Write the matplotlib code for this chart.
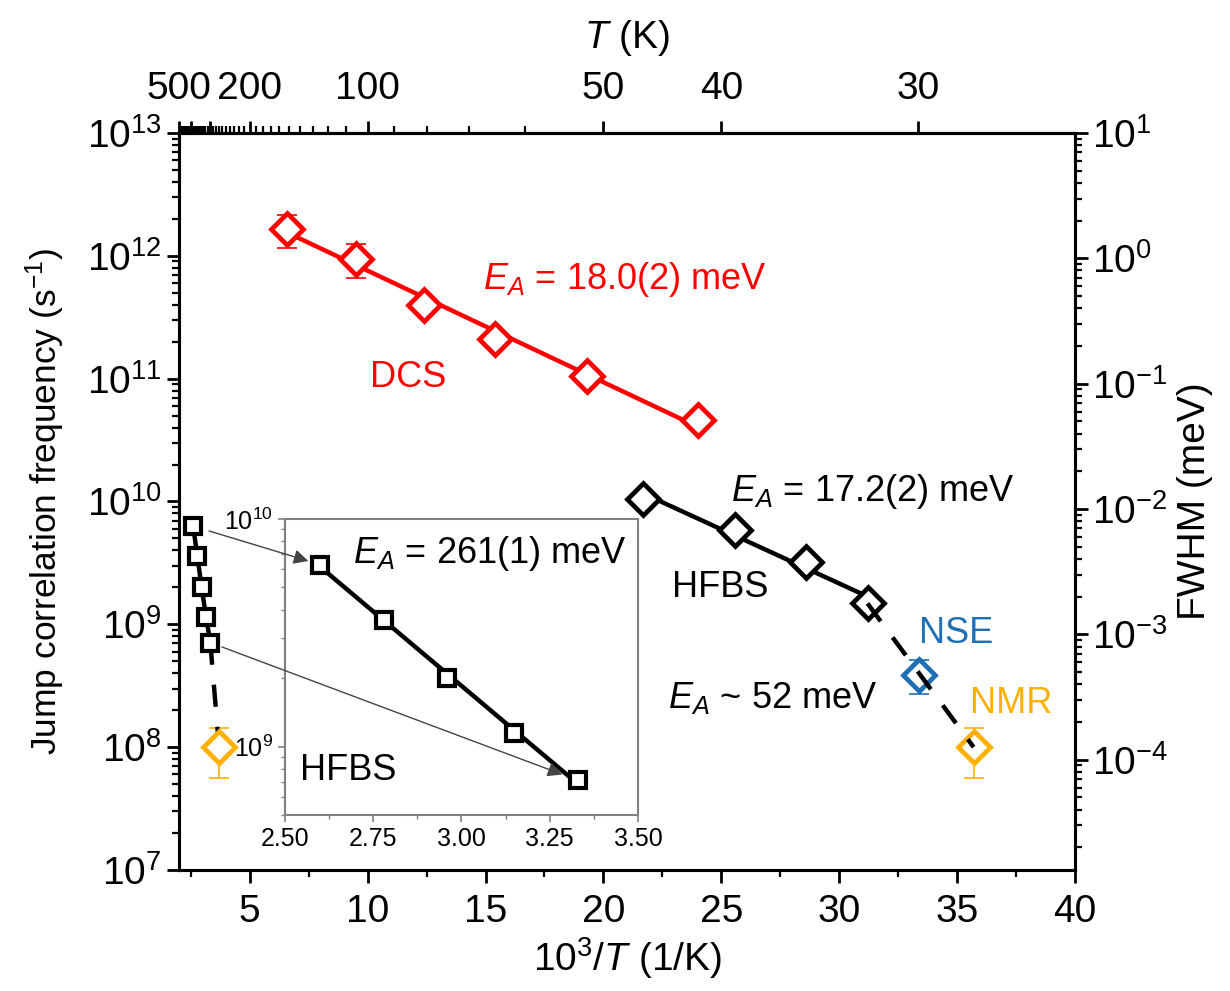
import numpy as np
import matplotlib.pyplot as plt
from matplotlib.ticker import LogLocator, FixedLocator, NullFormatter, MultipleLocator, LogFormatterSciNotation

plt.rcParams['font.family'] = ['Liberation Sans', 'DejaVu Sans']
plt.rcParams['mathtext.fontset'] = 'custom'
plt.rcParams['mathtext.rm'] = 'Liberation Sans'
plt.rcParams['mathtext.it'] = 'Liberation Sans:italic'
plt.rcParams['mathtext.bf'] = 'Liberation Sans:bold'
plt.rcParams['axes.unicode_minus'] = False

# x = 1000/T (1/K), y = jump correlation frequency (1/s)
dcs_x = [6.6, 9.5, 12.4, 15.4, 19.3, 24.0]
dcs_nu = [1.66e12, 9.5e11, 4.0e11, 2.1e11, 1.05e11, 4.6e10]
dcs_err = [5.0e11, 2.9e11, 0, 0, 0, 0]

hfbs_x = [21.7, 25.6, 28.6, 31.2]
hfbs_nu = [1.05e10, 5.9e9, 3.2e9, 1.48e9]

hfbs_hi_x = [2.60, 2.78, 2.96, 3.15, 3.33]
hfbs_hi_nu = [6.3e9, 3.6e9, 2.0e9, 1.15e9, 7.1e8]

nse_x = [33.4]
nse_nu = [3.9e8]
nse_err = [1.2e8]

nmr_x = [3.7, 35.7]
nmr_nu = [1.0e8, 1.0e8]
nmr_err = [4.4e7, 4.4e7]

top_T_major = [500, 400, 300, 200, 100, 50, 40, 30]
top_T_labels = ['500', '', '', '200', '100', '50', '40', '30']
top_T_minor = [t for t in range(60, 500, 10) if t not in top_T_major]

fwhm_lim = (1.32e-5, 1e1)

RED = '#ff0000'
BLUE = '#1f6fb5'
ORANGE = '#ffb000'
FS = 26      # annotations
TFS = 28     # tick labels / axis labels


def fit_line(x, y):
    p = np.polyfit(x, np.log10(y), 1)
    xs = np.array([x[0], x[-1]])
    return xs, 10 ** np.polyval(p, xs)


def inv(v):
    v = np.asarray(v, dtype=float)
    with np.errstate(divide='ignore', invalid='ignore'):
        return 1000.0 / v


def style_ticks(a, which_axis):
    a.tick_params(axis=which_axis, which='major', direction='out', length=9, width=2, labelsize=TFS)
    a.tick_params(axis=which_axis, which='minor', direction='out', length=5, width=1.6)


fig = plt.figure(figsize=(12.3, 9.91), dpi=100)
ax = fig.add_axes([0.1455, 0.1221, 0.7285, 0.7437])
for s in ax.spines.values():
    s.set_linewidth(2.2)

# DCS
xs, ys = fit_line(dcs_x, dcs_nu)
ax.plot(xs, ys, color=RED, lw=3.2, zorder=2)
ax.errorbar(dcs_x[:2], dcs_nu[:2], yerr=dcs_err[:2], fmt='none', ecolor=RED, elinewidth=1.2,
            capsize=7, capthick=1.2, zorder=1)
ax.plot(dcs_x, dcs_nu, ls='none', marker='D', ms=16, mfc='white', mec=RED, mew=3.4, zorder=3)

# HFBS low temperature
xs, ys = fit_line(hfbs_x, hfbs_nu)
ax.plot(xs, ys, color='black', lw=3.2, zorder=2)
ax.plot(hfbs_x, hfbs_nu, ls='none', marker='D', ms=16, mfc='white', mec='black', mew=3.4, zorder=3)

# dashed E_A ~ 52 meV
ax.plot([hfbs_x[-1], nmr_x[1]], [hfbs_nu[-1], nmr_nu[1]], color='black', lw=3.2,
        dashes=(5, 4.5), zorder=4)
ax.plot([hfbs_hi_x[-1], nmr_x[0]], [hfbs_hi_nu[-1], nmr_nu[0]], color='black', lw=3.2,
        dashes=(5, 4.5), zorder=2)

# HFBS high temperature
ax.plot(hfbs_hi_x, hfbs_hi_nu, color='black', lw=3.2, marker='s', ms=12, mfc='white',
        mec='black', mew=3, zorder=3)

# NSE and NMR
ax.errorbar(nse_x, nse_nu, yerr=nse_err, fmt='none', ecolor=BLUE, elinewidth=1.2, capsize=7,
            capthick=1.2, zorder=1)
ax.plot(nse_x, nse_nu, ls='none', marker='D', ms=16, mfc='white', mec=BLUE, mew=3.4, zorder=3)
ax.errorbar(nmr_x, nmr_nu, yerr=nmr_err, fmt='none', ecolor=ORANGE, elinewidth=1.2, capsize=7,
            capthick=1.2, zorder=1)
ax.plot(nmr_x, nmr_nu, ls='none', marker='D', ms=16, mfc='white', mec=ORANGE, mew=3.4, zorder=3)

ax.set_yscale('log')
ax.set_xlim(2, 40)
ax.set_ylim(1e7, 1e13)
ax.set_xticks([5, 10, 15, 20, 25, 30, 35, 40])
ax.xaxis.set_minor_locator(MultipleLocator(2.5))
ax.yaxis.set_major_locator(LogLocator(base=10, numticks=20))
ax.yaxis.set_minor_locator(LogLocator(base=10, subs=np.arange(2, 10), numticks=20))
ax.yaxis.set_minor_formatter(NullFormatter())
style_ticks(ax, 'both')
ax.tick_params(axis='x', pad=8)
ax.set_xlabel(r'10$^3$/$T$ (1/K)', fontsize=TFS, labelpad=4)
ax.set_ylabel(r'Jump correlation frequency (s$^{-1}$)', fontsize=25.5, labelpad=14)

# top temperature axis
top = ax.secondary_xaxis('top', functions=(inv, inv))
top.set_xticks(top_T_major)
top.set_xticklabels(top_T_labels)
top.xaxis.set_minor_locator(FixedLocator(top_T_minor))
top.tick_params(axis='x', which='major', direction='out', length=9, width=2, labelsize=TFS, pad=10)
top.tick_params(axis='x', which='minor', direction='out', length=5, width=1.6)
top.set_xlabel(r'$T$ (K)', fontsize=TFS, labelpad=16)
top.spines['top'].set_linewidth(2.2)

# right FWHM axis
ax2 = ax.twinx()
ax2.set_yscale('log')
ax2.set_ylim(*fwhm_lim)
ax2.yaxis.set_major_locator(FixedLocator([1e-4, 1e-3, 1e-2, 1e-1, 1e0, 1e1]))
ax2.yaxis.set_major_formatter(LogFormatterSciNotation())
ax2.yaxis.set_minor_locator(LogLocator(base=10, subs=np.arange(2, 10), numticks=20))
ax2.yaxis.set_minor_formatter(NullFormatter())
style_ticks(ax2, 'y')
ax2.set_ylabel('FWHM (meV)', fontsize=TFS, labelpad=6)
for s in ax2.spines.values():
    s.set_linewidth(2.2)

# annotations
ax.text(14.9, 5.4e11, r'$E_A$ = 18.0(2) meV', color=RED, fontsize=FS, ha='left', va='baseline')
ax.text(11.7, 8.5e10, 'DCS', color=RED, fontsize=FS, ha='center', va='baseline')
ax.text(25.4, 1.0e10, r'$E_A$ = 17.2(2) meV', color='black', fontsize=FS, ha='left', va='baseline')
ax.text(22.9, 1.68e9, 'HFBS', color='black', fontsize=FS, ha='left', va='baseline')
ax.text(33.4, 7.0e8, 'NSE', color=BLUE, fontsize=FS, ha='left', va='baseline')
ax.text(22.75, 2.1e8, r'$E_A$ ~ 52 meV', color='black', fontsize=FS, ha='left', va='baseline')
ax.text(35.55, 1.9e8, 'NMR', color=ORANGE, fontsize=FS, ha='left', va='baseline')

# inset
ax_in = fig.add_axes([0.2317, 0.1776, 0.287, 0.2987])
ax_in.set_zorder(5)
xs, ys = fit_line(hfbs_hi_x, hfbs_hi_nu)
ax_in.plot(xs, ys, color='black', lw=3.2, zorder=2)
ax_in.plot(hfbs_hi_x, hfbs_hi_nu, ls='none', marker='s', ms=12, mfc='white', mec='black',
           mew=3, zorder=3)
ax_in.set_yscale('log')
ax_in.set_xlim(2.5, 3.5)
ax_in.set_ylim(5e8, 1e10)
ax_in.set_xticks([2.5, 2.75, 3.0, 3.25, 3.5])
ax_in.set_xticklabels(['2.50', '2.75', '3.00', '3.25', '3.50'])
ax_in.xaxis.set_minor_locator(MultipleLocator(0.125))
ax_in.yaxis.set_major_locator(FixedLocator([1e9, 1e10]))
ax_in.yaxis.set_major_formatter(LogFormatterSciNotation())
ax_in.yaxis.set_minor_locator(LogLocator(base=10, subs=np.arange(2, 10), numticks=20))
ax_in.yaxis.set_minor_formatter(NullFormatter())
ax_in.tick_params(which='major', direction='out', length=5, width=1.2, color='#808080', labelsize=18)
ax_in.tick_params(which='minor', direction='out', length=3, width=1, color='#808080')
for s in ax_in.spines.values():
    s.set_color('#808080')
    s.set_linewidth(1.5)
ax_in.text(2.693, 6.4e9, r'$E_A$ = 261(1) meV', fontsize=FS, ha='left', va='baseline')
ax_in.text(2.542, 7.1e8, 'HFBS', fontsize=FS, ha='left', va='baseline')

# arrows from main plot points to the inset
for i, sa, sb in [(0, 12, 9), (-1, 9, 12)]:
    ax_in.annotate('', xy=(hfbs_hi_x[i], hfbs_hi_nu[i]), xycoords='data',
                   xytext=(hfbs_hi_x[i], hfbs_hi_nu[i]), textcoords=ax.transData,
                   arrowprops=dict(arrowstyle='-|>', color='#444444', lw=1.0,
                                   shrinkA=sa, shrinkB=sb, mutation_scale=22),
                   annotation_clip=False, zorder=6)

fig.savefig('out.png', dpi=100)
